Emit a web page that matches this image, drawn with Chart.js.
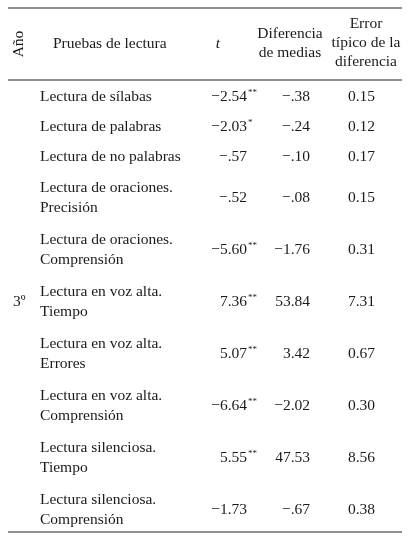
<!DOCTYPE html>
<html><head><meta charset="utf-8">
<script src="https://cdn.jsdelivr.net/npm/chart.js@4"></script>
<style>html,body{margin:0;background:#fff}#c{display:block}</style>
</head><body>
<div style="width:410px;height:540px"><canvas id="c"></canvas></div>
<script>
// datos de la tabla
const pruebas = [['Lectura de sílabas'], ['Lectura de palabras'], ['Lectura de no palabras'],
  ['Lectura de oraciones.', 'Precisión'], ['Lectura de oraciones.', 'Comprensión'],
  ['Lectura en voz alta.', 'Tiempo'], ['Lectura en voz alta.', 'Errores'],
  ['Lectura en voz alta.', 'Comprensión'], ['Lectura silenciosa.', 'Tiempo'],
  ['Lectura silenciosa.', 'Comprensión']]
const tValores = ['\u22122.54', '\u22122.03', '\u2212.57', '\u2212.52', '\u22125.60', '7.36', '5.07', '\u22126.64', '5.55', '\u22121.73']
const signif = ['**', '*', '', '', '**', '**', '**', '**', '**', '']
const diferencias = ['\u2212.38', '\u2212.24', '\u2212.10', '\u2212.08', '\u22121.76', '53.84', '3.42', '\u22122.02', '47.53', '\u2212.67']
const errores = ['0.15', '0.12', '0.17', '0.15', '0.31', '7.31', '0.67', '0.30', '8.56', '0.38']
const filasY = [97, 127, 157, 198, 250, 302, 354, 406, 458, 510]
const lineasY = [8, 80, 532]

const fuente = '"Liberation Serif", "DejaVu Serif", serif'
const tam = '15.5px '

const tablaPlugin = {
  id: 'tabla',
  afterDraw(chart) {
    const ctx = chart.ctx, sx = chart.scales.x, sy = chart.scales.y
    const X = v => sx.getPixelForValue(v), Y = v => sy.getPixelForValue(v)
    ctx.save()
    ctx.fillStyle = '#1a1a1a'
    ctx.textBaseline = 'middle'
    ctx.font = tam + fuente
    // encabezado
    ctx.textAlign = 'left'
    ctx.fillText('Pruebas de lectura', X(53), Y(44))
    ctx.textAlign = 'center'
    ctx.fillText('Diferencia', X(290), Y(34))
    ctx.fillText('de medias', X(290), Y(53))
    ctx.fillText('Error', X(366), Y(24))
    ctx.fillText('típico de la', X(366), Y(43))
    ctx.fillText('diferencia', X(366), Y(62))
    ctx.font = 'italic ' + tam + fuente
    ctx.fillText('t', X(218), Y(44))
    ctx.font = tam + fuente
    ctx.save()
    ctx.translate(X(19), Y(44))
    ctx.rotate(-Math.PI / 2)
    ctx.fillText('Año', 0, 0)
    ctx.restore()
    ctx.textAlign = 'left'
    ctx.fillText('3º', X(13), Y(302))
    // filas
    pruebas.forEach((p, i) => {
      const y = filasY[i]
      ctx.font = tam + fuente
      ctx.textAlign = 'left'
      if (p.length === 1) ctx.fillText(p[0], X(40), Y(y))
      else { ctx.fillText(p[0], X(40), Y(y - 10)); ctx.fillText(p[1], X(40), Y(y + 10)) }
      ctx.textAlign = 'right'
      ctx.fillText(tValores[i], X(247), Y(y))
      ctx.fillText(diferencias[i], X(310), Y(y))
      ctx.fillText(errores[i], X(375), Y(y))
      if (signif[i]) {
        ctx.textAlign = 'left'
        ctx.font = '9px ' + fuente
        ctx.fillText(signif[i], X(248), Y(y - 4))
      }
    })
    ctx.restore()
  }
}

const lineas = lineasY.map(y => ({
  type: 'line', data: [{ x: 8, y }, { x: 402, y }],
  borderColor: '#222', borderWidth: 1.2, pointRadius: 0
}))

new Chart(document.getElementById('c'), {
  type: 'scatter',
  data: { datasets: lineas },
  options: {
    responsive: true, maintainAspectRatio: false, animation: false,
    layout: { padding: 0 },
    plugins: { legend: { display: false }, tooltip: { enabled: false } },
    scales: {
      x: { type: 'linear', min: 0, max: 410, display: false },
      y: { type: 'linear', min: 0, max: 540, reverse: true, display: false }
    }
  },
  plugins: [tablaPlugin]
})
</script>
</body></html>
